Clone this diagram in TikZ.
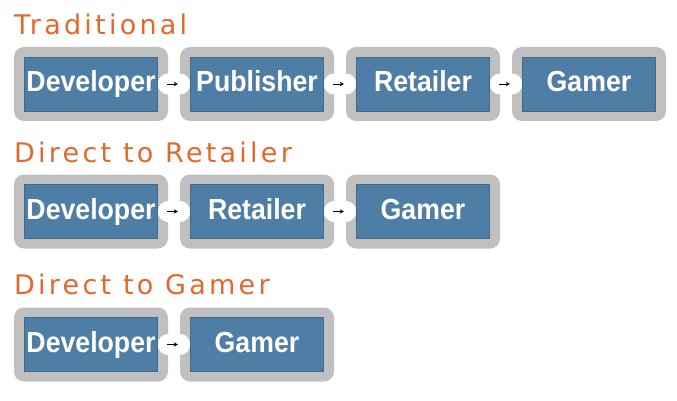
\documentclass[tikz,border=0pt]{standalone}
\usepackage{fontspec}
\setmainfont{Liberation Sans}
\newfontfamily\boxfont{Liberation Sans}[FakeStretch=0.92]
\newfontfamily\titlefont{DejaVu Sans}[LetterSpace=12]
\usetikzlibrary{arrows.meta}
\definecolor{boxblue}{HTML}{4E7DA5}
\definecolor{boxgray}{HTML}{C0C0C0}
\definecolor{titleorange}{HTML}{E2692B}
\tikzset{
  outerbox/.style={fill=boxgray, rounded corners=10pt, minimum width=154pt, minimum height=74pt, inner sep=0pt},
  innerbox/.style={fill=boxblue, draw=boxblue!85!black, line width=0.6pt, minimum width=133pt, minimum height=54pt, inner sep=0pt, text=white, font=\boxfont\bfseries\fontsize{29}{29}\selectfont, text height=21pt, text depth=6pt},
  notch/.style={circle, fill=white, minimum size=21pt, inner sep=0pt},
  arr/.style={-{Stealth[length=4pt,width=4.5pt]}, line width=0.9pt, black, shorten <=-1pt, shorten >=2pt},
  title/.style={anchor=base west, text=titleorange, font=\titlefont\fontsize{27}{27}\selectfont, inner sep=0pt}
}
\begin{document}
\begin{tikzpicture}[x=1pt,y=-1pt]
\useasboundingbox[fill=white] (0,0) rectangle (677,401);
% titles
\node[title] (t1) at (14,35) {Traditional};
\node[title] (t2) at (14,162) {Direct to Retailer};
\node[title] (t3) at (14,294) {Direct to Gamer};
% outer boxes
\node[outerbox] (a1) at (91,84) {};
\node[outerbox] (a2) at (257,84) {};
\node[outerbox] (a3) at (423,84) {};
\node[outerbox] (a4) at (589,84) {};
\node[outerbox] (b1) at (91,211.5) {};
\node[outerbox] (b2) at (257,211.5) {};
\node[outerbox] (b3) at (423,211.5) {};
\node[outerbox] (c1) at (91,344.5) {};
\node[outerbox] (c2) at (257,344.5) {};
% notches
\node[notch] (na1e) at (a1.east) {};
\node[notch] (na2w) at (a2.west) {};
\node[notch] (na2e) at (a2.east) {};
\node[notch] (na3w) at (a3.west) {};
\node[notch] (na3e) at (a3.east) {};
\node[notch] (na4w) at (a4.west) {};
\node[notch] (nb1e) at (b1.east) {};
\node[notch] (nb2w) at (b2.west) {};
\node[notch] (nb2e) at (b2.east) {};
\node[notch] (nb3w) at (b3.west) {};
\node[notch] (nc1e) at (c1.east) {};
\node[notch] (nc2w) at (c2.west) {};
% inner boxes
\node[innerbox] (ia1) at (a1) {Developer};
\node[innerbox] (ia2) at (a2) {Publisher};
\node[innerbox] (ia3) at (a3) {Retailer};
\node[innerbox] (ia4) at (a4) {Gamer};
\node[innerbox] (ib1) at (b1) {Developer};
\node[innerbox] (ib2) at (b2) {Retailer};
\node[innerbox] (ib3) at (b3) {Gamer};
\node[innerbox] (ic1) at (c1) {Developer};
\node[innerbox] (ic2) at (c2) {Gamer};
% arrows
\draw[arr] (a1.east) -- (a2.west);
\draw[arr] (a2.east) -- (a3.west);
\draw[arr] (a3.east) -- (a4.west);
\draw[arr] (b1.east) -- (b2.west);
\draw[arr] (b2.east) -- (b3.west);
\draw[arr] (c1.east) -- (c2.west);
\end{tikzpicture}
\end{document}
